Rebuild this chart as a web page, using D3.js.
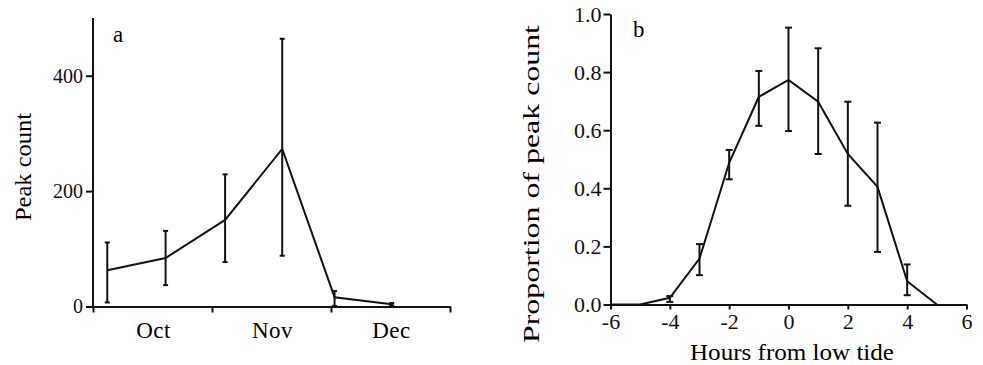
<!DOCTYPE html>
<meta charset="utf-8">
<style>
body { margin: 0; background: #fff; }
.axis path, .axis line { stroke: #111; stroke-width: 2px; }
.line { fill: none; stroke: #111; stroke-width: 2px; }
.err { stroke: #111; stroke-width: 2px; }
</style>
<body>
<script src="https://cdn.jsdelivr.net/npm/d3@7"></script>
<script>
// panel a: peak counts through the season (time in months from 1 Oct)
var monthLabels = ["Oct", "Nov", "Dec"];
var seasonTime = [0.12, 0.61, 1.11, 1.59, 2.03, 2.51];
var peakCount  = [63, 84, 150, 273, 16, 4];
var peakLow    = [7, 37, 77, 88, 1, 2];
var peakHigh   = [111, 131, 229, 464, 27, 6];
var countTicks = [0, 200, 400];

// panel b: proportion of peak count against hours from low tide
var hours    = [-6, -5, -4, -3, -2, -1, 0, 1, 2, 3, 4, 5];
var propPeak = [0, 0, 0.023, 0.158, 0.488, 0.715, 0.773, 0.698, 0.518, 0.405, 0.080, 0];
var propLow  = [null, null, 0.009, 0.101, 0.431, 0.615, 0.597, 0.518, 0.340, 0.181, 0.032, null];
var propHigh = [null, null, 0.029, 0.208, 0.532, 0.804, 0.953, 0.882, 0.698, 0.626, 0.138, null];
var hourTicks = [-6, -4, -2, 0, 2, 4, 6];
var propTicks = [0, 0.2, 0.4, 0.6, 0.8, 1.0];

var serif = "'Liberation Serif'";

var svg = d3.select("body").append("svg").attr("width", 983).attr("height", 365);

// ---------- panel a ----------
var xa = d3.scaleLinear().domain([0, 3]).range([93, 450]);
var ya = d3.scaleLinear().domain([0, 500]).range([306.5, 18]);

svg.append("g").attr("class", "axis")
    .attr("transform", "translate(0,306.5)")
    .call(d3.axisBottom(xa).tickValues([0, 1, 2, 3]).tickSize(6).tickSizeOuter(0).tickFormat(""));

var ayAxis = svg.append("g").attr("class", "axis")
    .attr("transform", "translate(93,0)")
    .call(d3.axisLeft(ya).tickValues(countTicks).tickSize(7).tickSizeOuter(0).tickPadding(3));
ayAxis.select(".domain").attr("d", "M0," + ya(500) + "V" + ya(0));
ayAxis.selectAll("text").style("font-family", serif).style("font-size", "20px").style("fill", "#111");

svg.selectAll(".month").data(monthLabels).enter().append("text")
    .attr("class", "month")
    .attr("x", function(d, i) { return xa(i + 0.5) + 1; })
    .attr("y", 338)
    .attr("text-anchor", "middle")
    .style("font-family", serif)
    .style("font-size", "23px")
    .style("letter-spacing", "0.5px")
    .text(function(d) { return d; });

var dataA = seasonTime.map(function(t, i) {
  return {x: t, y: peakCount[i], lo: peakLow[i], hi: peakHigh[i]};
});

svg.append("path").datum(dataA).attr("class", "line")
    .attr("d", d3.line().x(function(d) { return xa(d.x); }).y(function(d) { return ya(d.y); }));

drawErr(dataA, xa, ya, 2.5);

svg.append("text")
    .attr("transform", "translate(31,167) rotate(-90)")
    .attr("text-anchor", "middle")
    .style("font-family", serif)
    .style("font-size", "23px")
    .attr("textLength", 108).attr("lengthAdjust", "spacingAndGlyphs")
    .text("Peak count");

svg.append("text").attr("x", 113).attr("y", 42)
    .style("font-family", serif)
    .style("font-size", "23px").text("a");

// ---------- panel b ----------
var xb = d3.scaleLinear().domain([-6, 6]).range([610.5, 966.5]);
var yb = d3.scaleLinear().domain([0, 1]).range([304.5, 14]);

var bxAxis = svg.append("g").attr("class", "axis")
    .attr("transform", "translate(0,304.5)")
    .call(d3.axisBottom(xb).tickValues(hourTicks).tickSize(5).tickSizeOuter(0).tickPadding(4)
      .tickFormat(function(d) { return String(d); }));
bxAxis.selectAll("text").style("font-family", serif).style("font-size", "22px").style("fill", "#111");

var byAxis = svg.append("g").attr("class", "axis")
    .attr("transform", "translate(610.5,0)")
    .call(d3.axisLeft(yb).tickValues(propTicks).tickSize(7).tickSizeOuter(0).tickPadding(2)
      .tickFormat(d3.format(".1f")));
byAxis.selectAll("text").style("font-family", serif).style("font-size", "22px").style("fill", "#111");

var dataB = hours.map(function(h, i) {
  return {x: h, y: propPeak[i], lo: propLow[i], hi: propHigh[i]};
});

svg.append("path").datum(dataB).attr("class", "line")
    .attr("d", d3.line().x(function(d) { return xb(d.x); }).y(function(d) { return yb(d.y); }));

drawErr(dataB.filter(function(d) { return d.lo != null; }), xb, yb, 3.5);

svg.append("text")
    .attr("transform", "translate(539,184) rotate(-90)")
    .attr("text-anchor", "middle")
    .style("font-family", serif)
    .style("font-size", "24px")
    .attr("textLength", 318).attr("lengthAdjust", "spacingAndGlyphs")
    .text("Proportion of peak  count");

svg.append("text")
    .attr("x", 792).attr("y", 360)
    .attr("text-anchor", "middle")
    .style("font-family", serif)
    .style("font-size", "24px")
    .attr("textLength", 204).attr("lengthAdjust", "spacingAndGlyphs")
    .text("Hours from low tide");

svg.append("text").attr("x", 633).attr("y", 37)
    .style("font-family", serif)
    .style("font-size", "23px").text("b");

// error bars with small caps
function drawErr(data, x, y, cap) {
  var g = svg.append("g");
  var bars = g.selectAll("g").data(data).enter().append("g");
  bars.append("line").attr("class", "err")
      .attr("x1", function(d) { return x(d.x); }).attr("x2", function(d) { return x(d.x); })
      .attr("y1", function(d) { return y(d.lo); }).attr("y2", function(d) { return y(d.hi); });
  bars.append("line").attr("class", "err")
      .attr("x1", function(d) { return x(d.x) - cap; }).attr("x2", function(d) { return x(d.x) + cap; })
      .attr("y1", function(d) { return y(d.lo); }).attr("y2", function(d) { return y(d.lo); });
  bars.append("line").attr("class", "err")
      .attr("x1", function(d) { return x(d.x) - cap; }).attr("x2", function(d) { return x(d.x) + cap; })
      .attr("y1", function(d) { return y(d.hi); }).attr("y2", function(d) { return y(d.hi); });
}
</script>
</body>
